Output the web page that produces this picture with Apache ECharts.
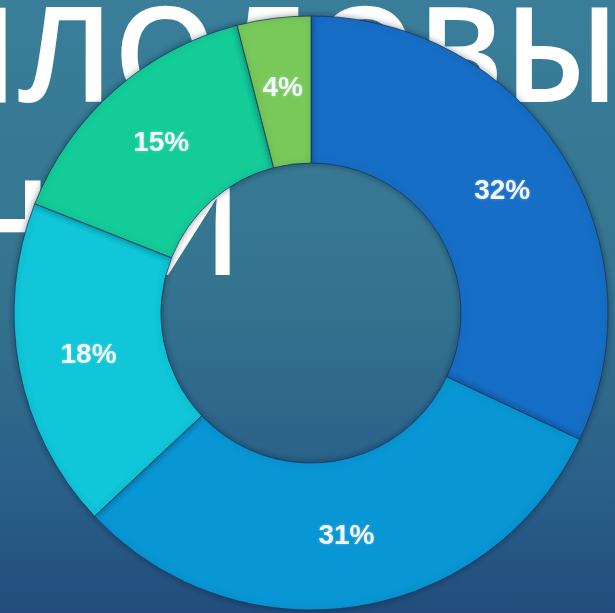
<!DOCTYPE html>
<html>
<head>
<meta charset="utf-8">
<script src="https://cdn.jsdelivr.net/npm/echarts@6/dist/echarts.min.js"></script>
<style>
  html, body { margin: 0; padding: 0; width: 615px; height: 613px; overflow: hidden; }
  body { background: linear-gradient(180deg, #3a7e99 0%, #35758f 45%, #2a5f88 80%, #224d7c 100%); }
  #chart { width: 615px; height: 613px; }
</style>
</head>
<body>
<div id="chart"></div>
<script>
// ---- data ----
const sliceNames = ['Сегмент 1', 'Сегмент 2', 'Сегмент 3', 'Сегмент 4', 'Сегмент 5'];
const shares = [32, 31, 18, 15, 4];
const titleLines = ['ПЛОДОВЫЕ', 'ОЦЕНКИ'];

// ---- styling ----
const palette = ['#176ec6', '#0996d4', '#10c6d8', '#14cc98', '#78c95a'];
const titleFont = '600 132px "Open Sans"';

function textWidth(str, font) {
  const c = document.createElement('canvas').getContext('2d');
  c.font = font;
  return c.measureText(str).width;
}

const line1 = titleLines[0];
const line2 = titleLines[1];
// line 1: second glyph starts near x=18
const x1 = 18 - textWidth(line1.slice(0, 1), titleFont);
// line 2: ends near x=242
const x2 = 242 - textWidth(line2, titleFont);

const chart = echarts.init(document.getElementById('chart'), null, { renderer: 'canvas' });
chart.setOption({
  backgroundColor: 'transparent',
  animation: false,
  graphic: {
    elements: [
      { type: 'text', z: 0, silent: true,
        style: { x: x1, y: 64, text: line1, font: titleFont, fill: '#ffffff',
                 align: 'left', verticalAlign: 'middle', textAlign: 'left', textVerticalAlign: 'middle' } },
      { type: 'text', z: 0, silent: true,
        style: { x: x2, y: 237, text: line2, font: titleFont, fill: '#ffffff',
                 align: 'left', verticalAlign: 'middle', textAlign: 'left', textVerticalAlign: 'middle' } }
    ]
  },
  series: [{
    type: 'pie',
    z: 10,
    center: [311, 313],
    radius: [150, 297],
    startAngle: 90,
    clockwise: true,
    silent: true,
    avoidLabelOverlap: false,
    itemStyle: {
      borderColor: 'rgba(20,55,85,0.75)',
      borderWidth: 1,
      shadowBlur: 6,
      shadowColor: 'rgba(10,30,60,0.45)'
    },
    label: {
      show: true,
      position: 'inside',
      formatter: p => p.value + '%',
      color: '#f2f8ff',
      fontFamily: '"Liberation Sans", Arial, sans-serif',
      fontWeight: 'bold',
      fontSize: 28,
      textShadowColor: 'rgba(255,255,255,0.35)',
      textShadowBlur: 3
    },
    labelLine: { show: false },
    emphasis: { disabled: true },
    data: shares.map((v, i) => ({ name: sliceNames[i], value: v, itemStyle: { color: palette[i] } }))
  }]
});
</script>
</body>
</html>
